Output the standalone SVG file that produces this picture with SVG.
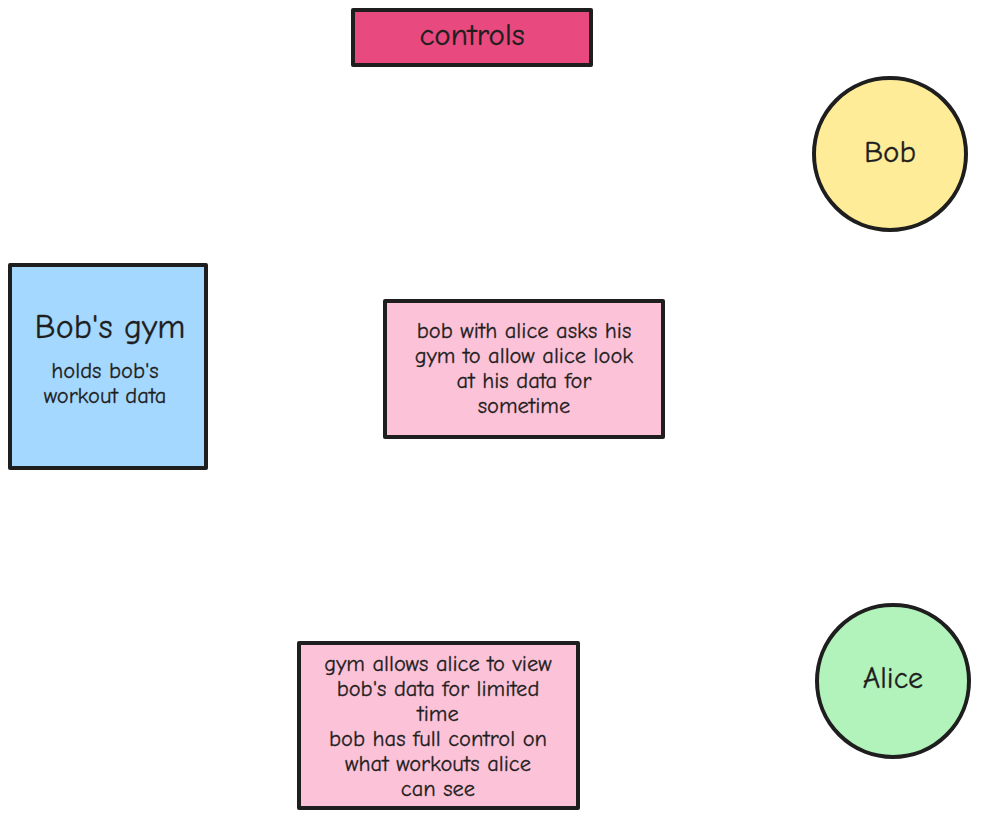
<svg xmlns="http://www.w3.org/2000/svg" width="982" height="818" viewBox="0 0 982 818">
<style>
.s{stroke:#1e1e1e;stroke-width:4;stroke-linejoin:round;stroke-linecap:round}
text{font-family:"Comic Neue","Liberation Sans","DejaVu Sans",sans-serif;fill:#1e1e1e;text-anchor:middle;dominant-baseline:middle;stroke:#1e1e1e;stroke-width:0.3}
.m{font-size:22.5px}
</style>
<rect width="982" height="818" fill="#ffffff"/>
<g id="connectors"></g>
<g id="controls">
<rect class="s" x="353" y="10" width="238" height="55" fill="#e8497f"/>
<text x="472" y="37" font-size="31">controls</text>
</g>
<g id="bob">
<circle class="s" cx="890" cy="154" r="76" fill="#ffec99"/>
<text x="890" y="154" font-size="31">Bob</text>
</g>
<g id="gym">
<rect class="s" x="10" y="265" width="196" height="203" fill="#a5d8ff"/>
<text x="110" y="330" font-size="34">Bob's gym</text>
<text class="m" x="105" y="373">holds bob's</text>
<text class="m" x="105" y="398">workout data</text>
</g>
<g id="request">
<rect class="s" x="385" y="301" width="278" height="136" fill="#fcc2d7"/>
<text class="m" x="524" y="333">bob with alice asks his</text>
<text class="m" x="524" y="358">gym to allow alice look</text>
<text class="m" x="524" y="383">at his data for</text>
<text class="m" x="524" y="408">sometime</text>
</g>
<g id="result">
<rect class="s" x="299" y="643" width="279" height="165" fill="#fcc2d7"/>
<text class="m" x="438" y="666">gym allows alice to view</text>
<text class="m" x="438" y="691">bob's data for limited</text>
<text class="m" x="438" y="716">time</text>
<text class="m" x="438" y="741">bob has full control on</text>
<text class="m" x="438" y="766">what workouts alice</text>
<text class="m" x="438" y="791">can see</text>
</g>
<g id="alice">
<circle class="s" cx="893" cy="681" r="76" fill="#b2f2bb"/>
<text x="893" y="681" font-size="30">Alice</text>
</g>
</svg>
